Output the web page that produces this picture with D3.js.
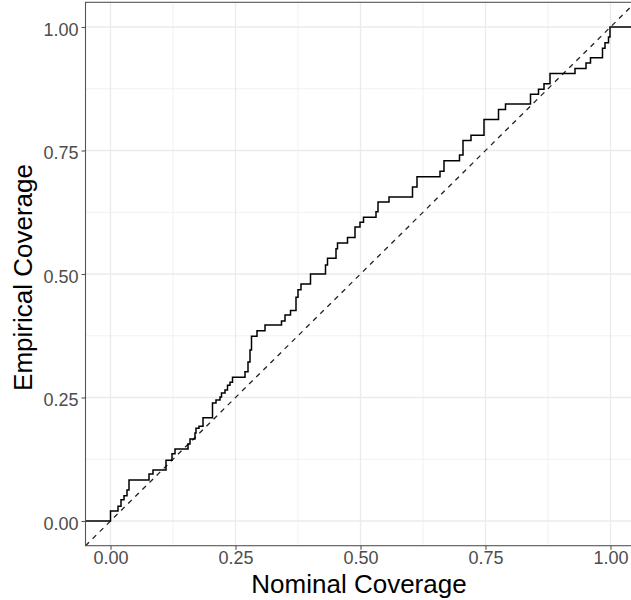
<!DOCTYPE html>
<html>
<head>
<meta charset="utf-8">
<script src="https://cdn.jsdelivr.net/npm/d3@7"></script>
<style>
  body { margin: 0; background: #fff; }
  svg { display: block; font-family: "Liberation Sans", Arial, sans-serif; }
</style>
</head>
<body>
<div id="chart"></div>
<script>
// nominal coverage where the empirical coverage steps up, and the value after the step
var nominal = [0.000, 0.015, 0.021, 0.027, 0.033, 0.037, 0.077, 0.085, 0.111, 0.123,
  0.129, 0.155, 0.159, 0.169, 0.171, 0.177, 0.185, 0.204, 0.211, 0.219,
  0.222, 0.229, 0.234, 0.239, 0.244, 0.269, 0.275, 0.279, 0.282, 0.293,
  0.309, 0.342, 0.349, 0.360, 0.371, 0.375, 0.381, 0.400, 0.430, 0.434,
  0.451, 0.454, 0.474, 0.489, 0.499, 0.506, 0.531, 0.535, 0.557, 0.604,
  0.613, 0.659, 0.667, 0.698, 0.705, 0.721, 0.747, 0.776, 0.790, 0.840,
  0.856, 0.867, 0.879, 0.929, 0.951, 0.960, 0.984, 0.989, 0.996, 0.999];
var empirical = [0.020, 0.030, 0.043, 0.051, 0.063, 0.083, 0.095, 0.103, 0.123, 0.136,
  0.146, 0.156, 0.166, 0.178, 0.188, 0.192, 0.209, 0.239, 0.245, 0.251,
  0.259, 0.265, 0.275, 0.281, 0.291, 0.302, 0.322, 0.346, 0.374, 0.385,
  0.397, 0.405, 0.417, 0.426, 0.453, 0.468, 0.480, 0.500, 0.518, 0.532,
  0.551, 0.563, 0.574, 0.595, 0.605, 0.615, 0.626, 0.646, 0.656, 0.676,
  0.697, 0.708, 0.729, 0.741, 0.770, 0.781, 0.813, 0.833, 0.844, 0.864,
  0.874, 0.885, 0.906, 0.916, 0.927, 0.938, 0.957, 0.968, 0.980, 1.000];
var tickValues = [0, 0.25, 0.5, 0.75, 1];
var minorValues = [0.125, 0.375, 0.625, 0.875];
var xLabel = 'Nominal Coverage';
var yLabel = 'Empirical Coverage';

var width = 631, height = 600;
var panel = { left: 85.5, top: 2.3, right: 635.5, bottom: 545.7 };

var svg = d3.select('#chart').append('svg')
    .attr('width', width)
    .attr('height', height);

var x = d3.scaleLinear().domain([-0.05, 1.05]).range([panel.left, panel.right]);
var y = d3.scaleLinear().domain([-0.05, 1.05]).range([panel.bottom, panel.top]);

var g = svg.append('g');

// grid
g.selectAll('line.vminor').data(minorValues).enter().append('line')
    .attr('x1', function(d) { return x(d); }).attr('x2', function(d) { return x(d); })
    .attr('y1', panel.top).attr('y2', panel.bottom)
    .style('stroke', '#ebebeb').style('stroke-width', 0.7);
g.selectAll('line.hminor').data(minorValues).enter().append('line')
    .attr('y1', function(d) { return y(d); }).attr('y2', function(d) { return y(d); })
    .attr('x1', panel.left).attr('x2', panel.right)
    .style('stroke', '#ebebeb').style('stroke-width', 0.7);
g.selectAll('line.vmajor').data(tickValues).enter().append('line')
    .attr('x1', function(d) { return x(d); }).attr('x2', function(d) { return x(d); })
    .attr('y1', panel.top).attr('y2', panel.bottom)
    .style('stroke', '#ebebeb').style('stroke-width', 1.3);
g.selectAll('line.hmajor').data(tickValues).enter().append('line')
    .attr('y1', function(d) { return y(d); }).attr('y2', function(d) { return y(d); })
    .attr('x1', panel.left).attr('x2', panel.right)
    .style('stroke', '#ebebeb').style('stroke-width', 1.3);

// y = x reference
g.append('line')
    .attr('x1', x(-0.05)).attr('y1', y(-0.05))
    .attr('x2', x(1.05)).attr('y2', y(1.05))
    .style('stroke', '#222')
    .style('stroke-width', 1.3)
    .style('stroke-dasharray', '5,5');

// step curve
var pts = [[-0.05, 0]];
nominal.forEach(function(n, i) { pts.push([n, empirical[i]]); });
pts.push([1.05, empirical[empirical.length - 1]]);

var line = d3.line()
    .x(function(d) { return x(d[0]); })
    .y(function(d) { return y(d[1]); })
    .curve(d3.curveStepAfter);

g.append('path')
    .datum(pts)
    .attr('d', line)
    .style('fill', 'none')
    .style('stroke', '#000')
    .style('stroke-width', 1.5);

// panel border
g.append('rect')
    .attr('x', panel.left).attr('y', panel.top)
    .attr('width', panel.right - panel.left).attr('height', panel.bottom - panel.top)
    .style('fill', 'none')
    .style('stroke', '#555')
    .style('stroke-width', 1.1);

// axes
var fmt = d3.format('.2f');
var xAxis = svg.append('g')
    .attr('transform', 'translate(0,' + panel.bottom + ')')
    .call(d3.axisBottom(x).tickValues(tickValues).tickFormat(fmt).tickSize(4).tickPadding(2));
var yAxis = svg.append('g')
    .attr('transform', 'translate(' + panel.left + ',0)')
    .call(d3.axisLeft(y).tickValues(tickValues).tickFormat(fmt).tickSize(4).tickPadding(3));

[xAxis, yAxis].forEach(function(a) {
  a.select('.domain').remove();
  a.selectAll('line').style('stroke', '#555').style('stroke-width', 1.1);
  a.selectAll('text')
      .style('font-family', '"Liberation Sans", Arial, sans-serif')
      .style('font-size', '18px')
      .style('fill', '#4d4d4d');
});
yAxis.selectAll('text').attr('dy', '0.45em');

svg.append('text')
    .attr('x', 359)
    .attr('y', 592.5)
    .attr('text-anchor', 'middle')
    .style('font-size', '26px')
    .style('fill', '#000')
    .text(xLabel);

svg.append('text')
    .attr('transform', 'translate(31.5,277.5) rotate(-90)')
    .attr('text-anchor', 'middle')
    .style('font-size', '26px')
    .style('fill', '#000')
    .text(yLabel);
</script>
</body>
</html>
